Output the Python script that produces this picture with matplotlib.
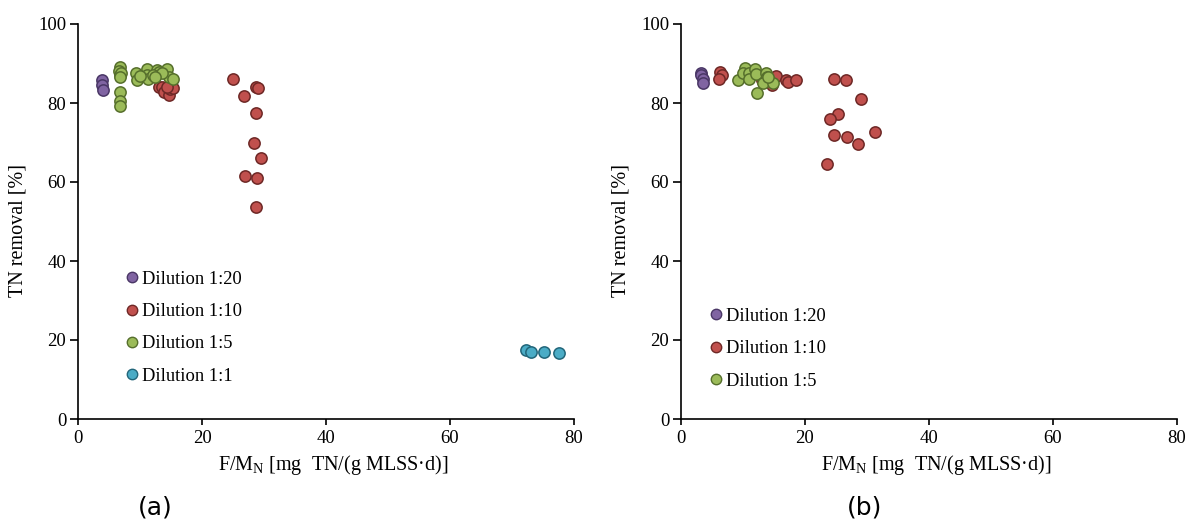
import matplotlib
matplotlib.use("Agg")
import matplotlib.pyplot as plt
from matplotlib.lines import Line2D

# ---- data: panel (a) ----
a_d20_x = [3.8, 3.8, 4.0]
a_d20_y = [85.8, 84.6, 83.3]
a_d10_x = [13.0, 13.5, 13.8, 14.6, 14.8, 15.4, 14.3, 25.0, 26.7, 28.7, 29.0, 28.7, 28.4, 29.5, 26.9, 28.9, 28.7]
a_d10_y = [84.1, 84.1, 82.9, 82.0, 83.5, 83.7, 84.1, 86.1, 81.8, 84.1, 83.7, 77.4, 70.0, 66.0, 61.6, 60.9, 53.7]
a_d5_x = [6.8, 6.6, 6.8, 7.0, 6.8, 6.7, 6.7, 6.7, 9.4, 9.5, 11.1, 11.2, 11.3, 12.7, 13.1, 12.1, 14.3, 14.6, 15.4, 13.5, 10.0, 12.4]
a_d5_y = [89.2, 88.1, 87.1, 87.6, 86.7, 82.9, 80.6, 79.3, 87.5, 85.8, 88.5, 87.1, 86.2, 88.4, 87.9, 87.1, 88.5, 86.7, 86.0, 87.5, 86.8, 86.5]
a_d1_x = [72.2, 73.0, 75.2, 77.5]
a_d1_y = [17.5, 17.0, 17.0, 16.6]

# ---- data: panel (b) ----
b_d20_x = [3.2, 3.3, 3.6, 3.6]
b_d20_y = [87.5, 87.1, 86.2, 85.0]
b_d10_x = [6.3, 6.6, 6.1, 13.0, 14.6, 15.3, 16.9, 17.2, 18.5, 24.6, 26.6, 29.0, 25.3, 24.0, 24.7, 26.7, 31.3, 28.5, 23.5]
b_d10_y = [87.9, 87.1, 86.0, 85.8, 84.6, 86.8, 85.8, 85.4, 85.8, 86.1, 85.8, 81.0, 77.1, 75.9, 71.9, 71.5, 72.7, 69.5, 64.5]
b_d5_x = [9.2, 10.3, 10.0, 11.0, 11.0, 11.9, 12.1, 12.2, 13.7, 13.8, 13.3, 14.8, 14.1]
b_d5_y = [85.8, 88.8, 87.5, 87.7, 86.0, 88.5, 87.3, 82.6, 87.7, 86.7, 85.0, 85.0, 86.7]

labels = ["Dilution 1:20", "Dilution 1:10", "Dilution 1:5", "Dilution 1:1"]
faces = ["#8064A2", "#C0504D", "#9BBB59", "#4BACC6"]
edges = ["#4A3766", "#6E2826", "#566F2C", "#22667A"]

plt.rcParams['font.family'] = ['Liberation Serif', 'DejaVu Serif']
plt.rcParams['mathtext.fontset'] = 'custom'
plt.rcParams['mathtext.rm'] = 'Liberation Serif'

fig = plt.figure(figsize=(11.89, 5.25), dpi=100)
ax1 = fig.add_axes([78/1189, 106/525, 496/1189, 395/525])
ax2 = fig.add_axes([681/1189, 106/525, 496/1189, 395/525])

panel_a = [(a_d20_x, a_d20_y), (a_d10_x, a_d10_y), (a_d5_x, a_d5_y), (a_d1_x, a_d1_y)]
panel_b = [(b_d20_x, b_d20_y), (b_d10_x, b_d10_y), (b_d5_x, b_d5_y)]

def style(ax):
    ax.set_xlim(0, 80)
    ax.set_ylim(0, 100)
    ax.set_xticks([0, 20, 40, 60, 80])
    ax.set_yticks([0, 20, 40, 60, 80, 100])
    for s in ["top", "right"]:
        ax.spines[s].set_visible(False)
    for s in ["left", "bottom"]:
        ax.spines[s].set_linewidth(1.2)
    ax.tick_params(axis="y", direction="out", length=5.5, width=1.2, labelsize=13.5, pad=3)
    ax.tick_params(axis="x", direction="out", length=4, width=1.2, labelsize=13.5, pad=4)
    ax.set_xlabel("F/M$_{\\mathregular{N}}$ [mg  TN/(g MLSS·d)]", fontsize=14.5)
    ax.xaxis.set_label_coords(0.515, -0.085)
    ax.set_ylabel("TN removal [%]", fontsize=14.5)
    ax.yaxis.set_label_coords(-0.102, 0.476)

for ax, panel, anchor in [(ax1, panel_a, (0.073, 0.394)), (ax2, panel_b, (0.035, 0.300))]:
    handles = []
    for i, (xs, ys) in enumerate(panel):
        ax.scatter(xs, ys, s=66, c=faces[i], edgecolors=edges[i], linewidths=1.1, zorder=3)
        handles.append(Line2D([], [], marker="o", linestyle="none", markersize=7.5,
                              markerfacecolor=faces[i], markeredgecolor=edges[i],
                              markeredgewidth=1.0, label=labels[i]))
    style(ax)
    ax.legend(handles=handles, loc="upper left", bbox_to_anchor=anchor, frameon=False,
              fontsize=13.3, handletextpad=0.0, labelspacing=0.83, handlelength=1.1,
              borderaxespad=0)

fig.text(155/1189, 1 - 507/525, "(a)", fontsize=18, family="DejaVu Sans", ha="center", va="center")
fig.text(865/1189, 1 - 507/525, "(b)", fontsize=18, family="DejaVu Sans", ha="center", va="center")

fig.savefig("out.png", dpi=100)
